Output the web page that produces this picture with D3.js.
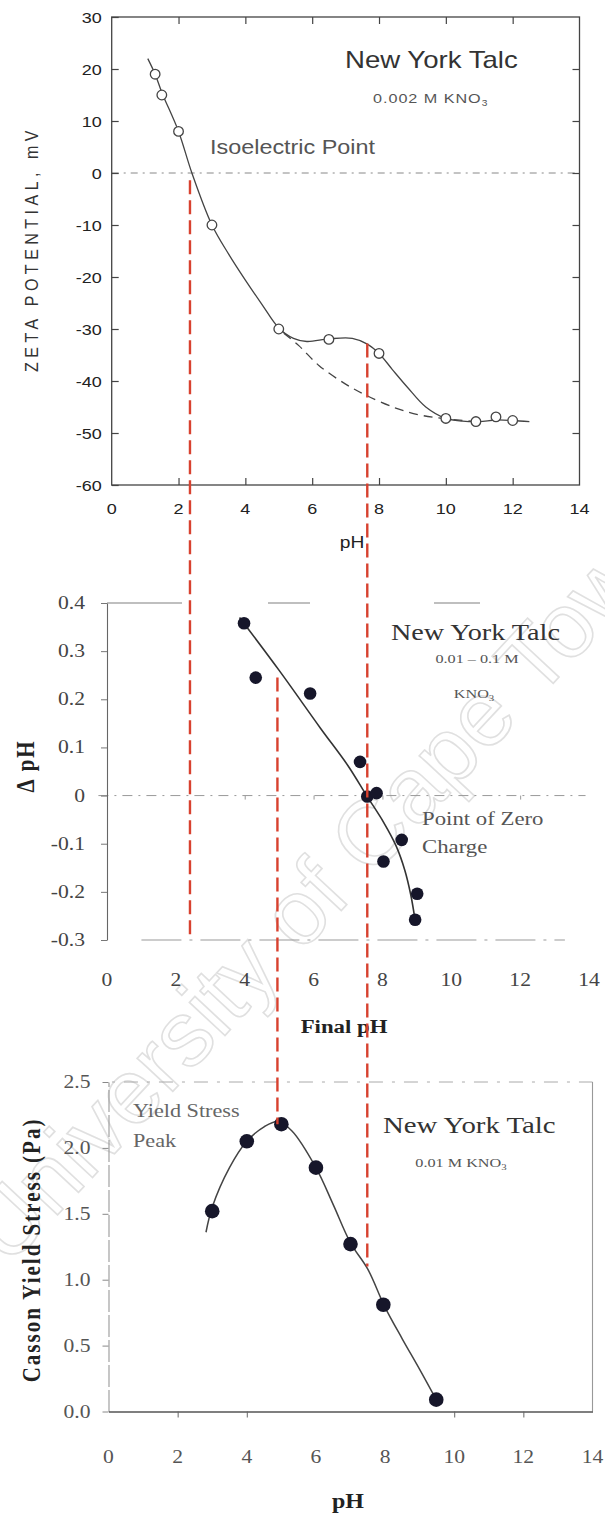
<!DOCTYPE html>
<html>
<head>
<meta charset="UTF-8">
<style>
body { margin: 0; background: #fff; }
svg { display: block; }
.sans { font-family: "Liberation Sans", Arial, sans-serif; }
.serif { font-family: "Liberation Serif", "Times New Roman", serif; }
</style>
</head>
<body>
<svg width="605" height="1516"></svg>
<script src="https://cdn.jsdelivr.net/npm/d3@7/dist/d3.min.js"></script>
<script>
// ---- data ----
var phTicks = [0, 2, 4, 6, 8, 10, 12, 14];
var zetaTicks = [30, 20, 10, 0, -10, -20, -30, -40, -50, -60];
var dphTicks = [0.4, 0.3, 0.2, 0.1, 0, -0.1, -0.2, -0.3];
var dphTickLabels = ["0.4", "0.3", "0.2", "0.1", "0", "-0.1", "-0.2", "-0.3"];
var yieldTicks = [0, 0.5, 1.0, 1.5, 2.0, 2.5];

// zeta potential, New York talc, 0.002 M KNO3
var zetaPH = [1.3, 1.5, 2.0, 3.0, 5.0, 6.5, 8.0, 10.0, 10.9, 11.5, 12.0];
var zetaMV = [19, 15, 8, -10, -30, -32, -34.7, -47.2, -47.8, -46.9, -47.6];
var zetaFitPH = [1.08, 1.3, 1.5, 2.0, 2.4, 3.0, 3.5, 4.0, 4.5, 5.0, 5.44, 5.84, 6.5, 7.2, 7.65, 8.0, 8.4, 8.85, 9.4, 10.0, 10.5, 11.0, 11.5, 12.0, 12.5];
var zetaFitMV = [22, 19, 15.5, 8, 0, -10, -15.6, -20.6, -25.3, -29.8, -31.8, -32.4, -31.9, -31.8, -32.9, -34.7, -37.8, -41.2, -45, -47.2, -47.7, -47.8, -47.5, -47.6, -47.8];
var zetaDashPH = [5.15, 5.6, 6.2, 7.0, 7.6, 8.5, 9.2, 9.9, 10.9];
var zetaDashMV = [-30.8, -33.2, -37, -40.6, -42.7, -45.2, -46.5, -47.2, -47.8];

// delta pH vs final pH, 0.01 - 0.1 M KNO3
var dphX = [3.98, 4.32, 5.9, 7.35, 7.56, 7.83, 8.03, 8.56, 9.01, 8.95];
var dphY = [0.358, 0.245, 0.212, 0.07, -0.002, 0.005, -0.137, -0.092, -0.204, -0.258];
var dphFitX = [3.85, 5.0, 6.2, 7.0, 7.54, 8.03, 8.4, 8.65, 8.82, 8.93];
var dphFitY = [0.37, 0.26, 0.14, 0.062, 0.0, -0.055, -0.105, -0.155, -0.205, -0.25];

// Casson yield stress, 0.01 M KNO3
var yieldPH = [3.0, 4.0, 5.0, 6.0, 7.0, 7.95, 9.48];
var yieldPa = [1.52, 2.05, 2.18, 1.85, 1.27, 0.81, 0.09];
var yieldFitPH = [2.82, 3.0, 3.5, 4.0, 4.5, 4.9, 5.3, 6.0, 6.5, 7.0, 7.5, 8.0, 8.5, 9.0, 9.48];
var yieldFitPa = [1.36, 1.55, 1.85, 2.05, 2.16, 2.2, 2.13, 1.85, 1.57, 1.28, 1.08, 0.79, 0.55, 0.32, 0.09];

// red guide lines: pH, and where they start / stop
var guidePH = [2.41, 7.56, 4.95];
var guideFrom = [["zeta", -1.4], ["zeta", -32.8], ["dph", 0.245]];
var guideTo = [["dph", -0.3], ["yield", 1.1], ["yield", 2.18]];

// ---- drawing ----
var svg = d3.select("svg");
svg.append("rect").attr("width", 605).attr("height", 1516).attr("fill", "#fff");

// faint watermark of the scan
svg.append("text")
    .attr("class", "sans")
    .attr("transform", "translate(8,1268) rotate(-47)")
    .attr("font-size", 92)
    .attr("fill", "none")
    .attr("stroke", "#e0e0e0")
    .attr("stroke-width", 1.6)
    .text("University of Cape Town");

var x1 = d3.scaleLinear().domain([0, 14]).range([111.7, 579.5]);
var y1 = d3.scaleLinear().domain([-60, 30]).range([485, 17]);
var x2 = d3.scaleLinear().domain([0, 14]).range([107, 589]);
var y2 = d3.scaleLinear().domain([-0.3, 0.4]).range([940, 603]);
var x3 = d3.scaleLinear().domain([0, 14]).range([108.5, 592.5]);
var y3 = d3.scaleLinear().domain([0, 2.5]).range([1411.5, 1082]);
var yOf = { zeta: y1, dph: y2, yield: y3 };

// the scan is stretched sideways, so text is too
function txt(g, x, y, s, size, cls, anchor, fill) {
    return g.append("text")
        .attr("class", cls)
        .attr("transform", "translate(" + x + "," + y + ") scale(1.2,1)")
        .attr("font-size", size)
        .attr("text-anchor", anchor || "start")
        .attr("fill", fill || "#333")
        .text(s);
}
function vtxt(g, x, y, s, size, cls, weight, spacing, fill) {
    return g.append("text")
        .attr("class", cls)
        .attr("transform", "translate(" + x + "," + y + ") rotate(-90) scale(1,1.2)")
        .attr("font-size", size)
        .attr("font-weight", weight)
        .attr("letter-spacing", spacing)
        .attr("text-anchor", "middle")
        .attr("fill", fill || "#333")
        .text(s);
}
function sub(t, s, size) {
    t.append("tspan").attr("font-size", size).attr("dy", 3).text(s);
}
function noDomain(g) { g.select(".domain").remove(); }
function tickStyle(g, col, w) {
    g.selectAll(".tick line").attr("stroke", col).attr("stroke-width", w);
}
function pathOf(xs, ys, xs_, ys_) {
    return d3.line()
        .x(function(d, i) { return xs_(xs[i]); })
        .y(function(d, i) { return ys_(ys[i]); })
        .curve(d3.curveCatmullRom.alpha(0.5))(xs);
}

// ===== panel 1: zeta potential =====
var p1 = svg.append("g");
p1.append("line").attr("x1", x1(0)).attr("x2", x1(14)).attr("y1", y1(0)).attr("y2", y1(0))
    .attr("stroke", "#888").attr("stroke-width", 1).attr("stroke-dasharray", "7,5,2,5");
p1.append("rect")
    .attr("x", x1(0)).attr("y", y1(30))
    .attr("width", x1(14) - x1(0)).attr("height", y1(-60) - y1(30))
    .attr("fill", "none").attr("stroke", "#444").attr("stroke-width", 1.3);

p1.append("g").attr("transform", "translate(" + x1(0) + ",0)")
    .call(d3.axisRight(y1).tickValues(zetaTicks).tickSize(7).tickFormat(""))
    .call(noDomain).call(tickStyle, "#444", 1.2);
p1.append("g").attr("transform", "translate(" + x1(14) + ",0)")
    .call(d3.axisLeft(y1).tickValues(zetaTicks.slice(1, -1)).tickSize(7).tickFormat(""))
    .call(noDomain).call(tickStyle, "#444", 1.2);
p1.append("g").attr("transform", "translate(0," + y1(30) + ")")
    .call(d3.axisBottom(x1).tickValues(phTicks.slice(1, -1)).tickSize(7).tickFormat(""))
    .call(noDomain).call(tickStyle, "#444", 1.2);
p1.append("g").attr("transform", "translate(0," + y1(-60) + ")")
    .call(d3.axisTop(x1).tickValues(phTicks.slice(1, -1)).tickSize(7).tickFormat(""))
    .call(noDomain).call(tickStyle, "#444", 1.2);

p1.selectAll(".ylab").data(zetaTicks).enter().each(function(d) {
    txt(p1, x1(0) - 10, y1(d) + 5.5, d, 15, "sans", "end", "#222");
});
p1.selectAll(".xlab").data(phTicks).enter().each(function(d) {
    txt(p1, x1(d), 514, d, 15, "sans", "middle", "#222");
});
txt(p1, 352, 548, "pH", 16, "sans", "middle", "#222");
vtxt(p1, 38, 249, "ZETA POTENTIAL, mV", 16, "sans", "normal", 4.5, "#333");

p1.append("path").attr("d", pathOf(zetaFitPH, zetaFitMV, x1, y1))
    .attr("fill", "none").attr("stroke", "#444").attr("stroke-width", 1.3);
p1.append("path").attr("d", pathOf(zetaDashPH, zetaDashMV, x1, y1))
    .attr("fill", "none").attr("stroke", "#444").attr("stroke-width", 1.3)
    .attr("stroke-dasharray", "9,6");
p1.selectAll("circle").data(zetaPH).enter().append("circle")
    .attr("cx", function(d) { return x1(d); })
    .attr("cy", function(d, i) { return y1(zetaMV[i]); })
    .attr("r", 4.8)
    .attr("fill", "#fff").attr("stroke", "#444").attr("stroke-width", 1.3);

txt(p1, 345, 68, "New York Talc", 23, "sans", "start", "#333");
var k1 = txt(p1, 373, 103, "0.002  M KNO", 13.5, "sans", "start", "#555").attr("letter-spacing", 0.8);
sub(k1, "3", 8.5);
txt(p1, 210, 154, "Isoelectric Point", 19.5, "sans", "start", "#555");

// ===== panel 2: delta pH =====
var p2 = svg.append("g");
p2.append("line").attr("x1", x2(-0.25)).attr("x2", x2(13.9)).attr("y1", y2(0)).attr("y2", y2(0))
    .attr("stroke", "#999").attr("stroke-width", 1).attr("stroke-dasharray", "10,6,2,6");
p2.append("line").attr("x1", x2(0)).attr("x2", x2(11)).attr("y1", y2(0.4)).attr("y2", y2(0.4))
    .attr("stroke", "#aaa").attr("stroke-width", 1.3).attr("stroke-dasharray", "75,86,42,124,46");
p2.append("line").attr("x1", x2(1)).attr("x2", x2(13.3)).attr("y1", y2(-0.3)).attr("y2", y2(-0.3))
    .attr("stroke", "#999").attr("stroke-width", 1).attr("stroke-dasharray", "40,8,3,8");
p2.append("g").attr("transform", "translate(0," + y2(0) + ")")
    .call(d3.axisBottom(x2).tickValues([4, 6, 8, 12]).tickSize(4).tickFormat(""))
    .call(noDomain).call(tickStyle, "#999", 1);
p2.append("g").attr("transform", "translate(" + x2(0) + ",0)")
    .call(d3.axisLeft(y2).tickValues(dphTicks).tickSize(6).tickSizeOuter(0).tickFormat(""))
    .call(tickStyle, "#777", 1)
    .call(function(g) { g.select(".domain").attr("stroke", "#666").attr("stroke-width", 1.1); });

p2.selectAll(".ylab").data(dphTicks).enter().each(function(d, i) {
    txt(p2, 85, y2(d) + 6, dphTickLabels[i], 18, "serif", "end", "#444");
});
p2.selectAll(".xlab").data(phTicks).enter().each(function(d) {
    txt(p2, x2(d), 986, d, 18, "serif", "middle", "#444");
});
txt(p2, 344, 1033, "Final pH", 19, "serif", "middle", "#222").attr("font-weight", "bold");
vtxt(p2, 34, 766, "\u0394 pH", 21, "serif", "bold", 2, "#222");

p2.append("path").attr("d", pathOf(dphFitX, dphFitY, x2, y2))
    .attr("fill", "none").attr("stroke", "#333").attr("stroke-width", 1.6);
p2.selectAll("circle").data(dphX).enter().append("circle")
    .attr("cx", function(d) { return x2(d); })
    .attr("cy", function(d, i) { return y2(dphY[i]); })
    .attr("r", 6.3)
    .attr("fill", "#16162a");

txt(p2, 391, 640, "New York Talc", 23.5, "serif", "start", "#333");
txt(p2, 477, 663, "0.01 \u2013 0.1 M", 13.5, "serif", "middle", "#555");
var k2 = txt(p2, 474, 698, "KNO", 13.5, "serif", "middle", "#555");
sub(k2, "3", 9);
txt(p2, 422, 825, "Point of Zero", 19, "serif", "start", "#555");
txt(p2, 422, 853, "Charge", 19, "serif", "start", "#555");

// ===== panel 3: Casson yield stress =====
var p3 = svg.append("g");
p3.append("line").attr("x1", x3(0.1)).attr("x2", x3(14)).attr("y1", y3(2.5)).attr("y2", y3(2.5))
    .attr("stroke", "#aaa").attr("stroke-width", 1).attr("stroke-dasharray", "3,9,14,9");
p3.append("line").attr("x1", x3(14)).attr("x2", x3(14)).attr("y1", y3(2.5)).attr("y2", y3(0))
    .attr("stroke", "#999").attr("stroke-width", 1.1);
p3.append("g").attr("transform", "translate(" + x3(0) + ",0)")
    .call(d3.axisLeft(y3).tickValues(yieldTicks).tickSize(6).tickSizeOuter(0).tickFormat(""))
    .call(tickStyle, "#888", 1)
    .call(function(g) { g.select(".domain").attr("stroke", "#999").attr("stroke-width", 1.1).attr("stroke-dasharray", "22,3"); });
p3.append("g").attr("transform", "translate(0," + y3(0) + ")")
    .call(d3.axisBottom(x3).tickValues([2, 4, 10, 12]).tickSize(6).tickSizeOuter(0).tickFormat(""))
    .call(tickStyle, "#666", 1)
    .call(function(g) { g.select(".domain").attr("stroke", "#555").attr("stroke-width", 1.3); });

p3.selectAll(".ylab").data(yieldTicks).enter().each(function(d) {
    txt(p3, 90.5, y3(d) + 6, d3.format(".1f")(d), 18, "serif", "end", "#555");
});
p3.selectAll(".xlab").data(phTicks).enter().each(function(d) {
    txt(p3, x3(d), 1463, d, 18, "serif", "middle", "#555");
});
txt(p3, 348, 1508, "pH", 20, "serif", "middle", "#222").attr("font-weight", "bold");
vtxt(p3, 40, 1250, "Casson Yield Stress (Pa)", 21, "serif", "bold", 2, "#222");

p3.append("path").attr("d", pathOf(yieldFitPH, yieldFitPa, x3, y3))
    .attr("fill", "none").attr("stroke", "#444").attr("stroke-width", 1.5);
p3.selectAll("circle").data(yieldPH).enter().append("circle")
    .attr("cx", function(d) { return x3(d); })
    .attr("cy", function(d, i) { return y3(yieldPa[i]); })
    .attr("r", 7.3)
    .attr("fill", "#16162a");

txt(p3, 133, 1117, "Yield Stress", 18.5, "serif", "start", "#666");
txt(p3, 133, 1147, "Peak", 18.5, "serif", "start", "#666");
txt(p3, 383, 1133, "New York Talc", 24, "serif", "start", "#333");
var k3 = txt(p3, 461, 1167, "0.01 M KNO", 13.5, "serif", "middle", "#555");
sub(k3, "3", 9);

// ===== red guide lines across the panels =====
svg.append("g").selectAll("line").data(guidePH).enter().append("line")
    .attr("x1", function(d) { return x2(d); })
    .attr("x2", function(d) { return x2(d); })
    .attr("y1", function(d, i) { return yOf[guideFrom[i][0]](guideFrom[i][1]); })
    .attr("y2", function(d, i) { return yOf[guideTo[i][0]](guideTo[i][1]); })
    .attr("stroke", "#d8412f")
    .attr("stroke-width", 2.4)
    .attr("stroke-dasharray", "14,6");
</script>
</body>
</html>
